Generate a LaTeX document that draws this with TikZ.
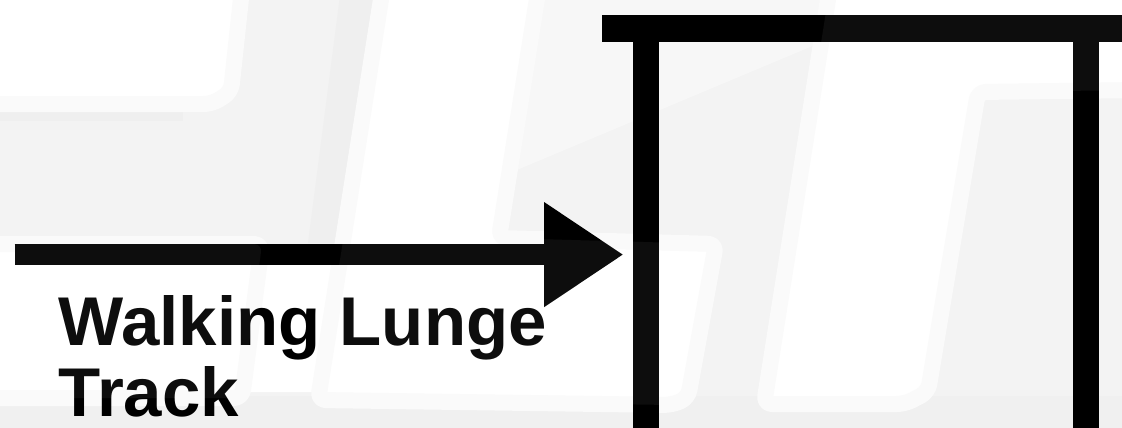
\documentclass[tikz,border=0pt]{standalone}
\usepackage{fontspec}
\setmainfont{Liberation Sans}
\usetikzlibrary{arrows.meta}
\definecolor{bggray}{HTML}{F3F3F3}
\definecolor{bandgray}{HTML}{FAFAFA}
\definecolor{lightzone}{HTML}{F7F7F7}
\definecolor{shadowgray}{HTML}{EFEFEF}
\definecolor{bottomgray}{HTML}{F0F0F0}
\begin{document}
\begin{tikzpicture}[x=1pt,y=-1pt,
  panel/.style={fill=white, draw=bandgray, line width=16pt, rounded corners=8pt, line join=round},
  veil/.style={fill=white, fill opacity=0.05, rounded corners=8pt},
  frame/.style={fill=black},
  arrowline/.style={line width=20.7pt, -{Triangle[length=78.5pt,width=105pt,line width=0pt]}},
  label/.style={font=\bfseries\fontsize{69}{72}\selectfont, inner sep=0pt, anchor=base west, text=black}]
\useasboundingbox (0,0) rectangle (1122,428);
\clip (0,0) rectangle (1122,428);
% background
\fill[bggray] (0,0) rectangle (1122,428);
\fill[bottomgray] (0,396) rectangle (1122,428);
\fill[lightzone] (540,-20) -- (840,-20) -- (815,45) -- (505,175) -- cycle;
\fill[shadowgray] (-20,108) rectangle (183,121);
\fill[shadowgray] (342,-20) -- (376,-20) -- (342,243) -- (308,243) -- cycle;
\path[panel] (-20,-20) -- (243,-20) -- (231,92) -- (212,104) -- (-20,104) -- cycle;
\fill[white] (250,252) -- (345,252) -- (322,392) -- (240,392) -- cycle;
\path[panel] (-20,244) -- (262,244) -- (242,398) -- (-20,398) -- cycle;
\path[panel] (384,-20) -- (540,-20) -- (499,238) -- (716,244) -- (688,398) -- (672,405) -- (318,400) -- cycle;
\path[panel] (831,-20) -- (1142,-20) -- (1142,90) -- (978,92) -- (928,392) -- (905,404) -- (764,404) -- cycle;
% frame
\fill[frame] (602,15) rectangle (1130,42);
\fill[frame] (633,41) rectangle (658.7,432);
\fill[frame] (1072.7,41) rectangle (1098.7,432);
% arrow
\coordinate (arrowstart) at (14.7,254.6);
\coordinate (arrowtip) at (622.7,254.6);
\draw[arrowline] (arrowstart) -- (arrowtip);
% label
\node[label] (walking) at (58.5,345) {Walking Lunge};
\node[label] (track) at (58.5,416.7) {Track};
% veil over everything
\fill[veil] (-20,244) -- (262,244) -- (242,398) -- (-20,398) -- cycle;
\fill[veil] (384,-20) -- (540,-20) -- (499,238) -- (716,244) -- (688,398) -- (672,405) -- (318,400) -- cycle;
\fill[veil] (831,-20) -- (1142,-20) -- (1142,90) -- (978,92) -- (928,392) -- (905,404) -- (764,404) -- cycle;
\end{tikzpicture}
\end{document}
